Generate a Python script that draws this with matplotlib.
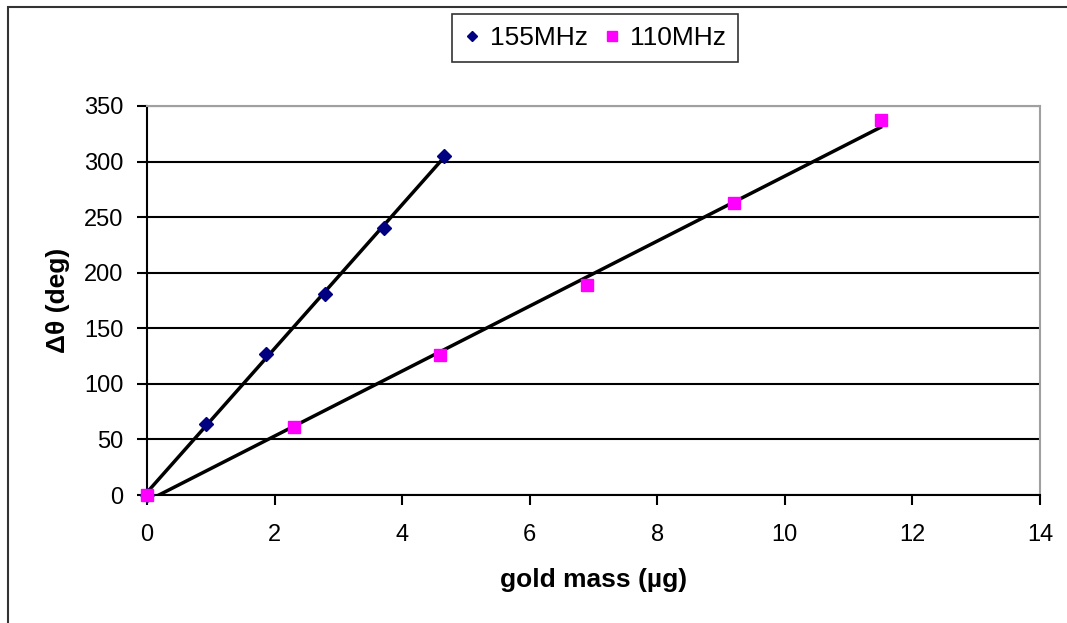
import numpy as np
import matplotlib.pyplot as plt
from matplotlib.patches import Rectangle

plt.rcParams['font.family'] = ['Liberation Sans', 'DejaVu Sans']

# gold mass (ug) and phase shift (deg)
mass_155 = [0, 0.93, 1.86, 2.79, 3.72, 4.65]
dtheta_155 = [0, 64, 127, 181, 240, 305]
mass_110 = [0, 2.3, 4.6, 6.9, 9.2, 11.5]
dtheta_110 = [0, 61, 126, 189, 263, 337]

fig = plt.figure(figsize=(10.67, 6.23), dpi=100)
ax = fig.add_axes([147 / 1067, 1 - 495 / 623, 893 / 1067, 389 / 623])

# outer chart border (cut off at right/bottom like the screenshot)
fig.patches.append(Rectangle((8 / 1067, -0.1), 1.2, 1 - 7 / 623 + 0.1,
                             transform=fig.transFigure, fill=False,
                             edgecolor='#333333', linewidth=1.5))

# linear trendlines (Excel style) over the data range
for xs, ys in [(mass_155, dtheta_155), (mass_110, dtheta_110)]:
    k, b = np.polyfit(xs, ys, 1)
    xx = np.array([min(xs), max(xs)])
    ax.plot(xx, k * xx + b, color='black', lw=2.5, zorder=3)

ax.plot(mass_155, dtheta_155, ls='none', marker='D', ms=7, color='#000080',
        label='155MHz', zorder=4, clip_on=False)
ax.plot(mass_110, dtheta_110, ls='none', marker='s', ms=9, color='#ff00ff',
        label='110MHz', zorder=5, clip_on=False)

ax.set_xlim(0, 14)
ax.set_ylim(0, 350)
ax.set_xticks(np.arange(0, 15, 2))
ax.set_yticks(np.arange(0, 351, 50))
ax.yaxis.grid(True, color='black', lw=1.5)
ax.set_axisbelow(True)

for s in ['top', 'right']:
    ax.spines[s].set_color('#a0a0a0')
    ax.spines[s].set_linewidth(1.5)
for s in ['left', 'bottom']:
    ax.spines[s].set_color('black')
    ax.spines[s].set_linewidth(1.5)

ax.tick_params(axis='both', direction='out', length=7, width=1.5,
               labelsize=17, colors='black')
ax.tick_params(axis='x', pad=14)
ax.tick_params(axis='y', pad=10)

ax.set_xlabel('gold mass (µg)', fontsize=19, fontweight='bold', labelpad=16)
ax.set_ylabel('Δθ (deg)', fontsize=19, fontweight='bold', labelpad=10)

leg = ax.legend(loc='center', bbox_to_anchor=(595 / 1067, 1 - 38 / 623),
                bbox_transform=fig.transFigure, ncol=2, fontsize=19,
                frameon=True, fancybox=False, edgecolor='black',
                handlelength=0.6, handletextpad=0.4, columnspacing=0.6,
                borderpad=0.45, markerscale=0.8)
leg.get_frame().set_linewidth(1.2)

fig.savefig('out.png', dpi=100)
